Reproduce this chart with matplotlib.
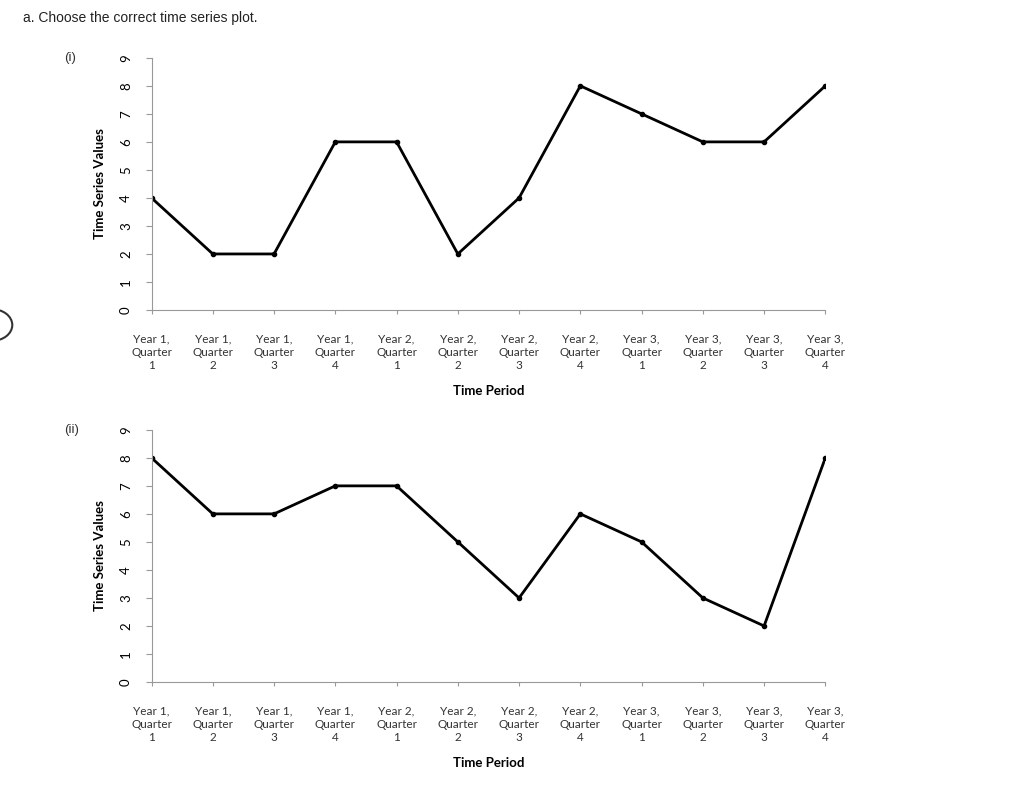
import matplotlib.pyplot as plt
from matplotlib.patches import Circle

periods = ["Year 1,\nQuarter\n1", "Year 1,\nQuarter\n2", "Year 1,\nQuarter\n3", "Year 1,\nQuarter\n4",
           "Year 2,\nQuarter\n1", "Year 2,\nQuarter\n2", "Year 2,\nQuarter\n3", "Year 2,\nQuarter\n4",
           "Year 3,\nQuarter\n1", "Year 3,\nQuarter\n2", "Year 3,\nQuarter\n3", "Year 3,\nQuarter\n4"]
values_i = [4, 2, 2, 6, 6, 2, 4, 8, 7, 6, 6, 8]
values_ii = [8, 6, 6, 7, 7, 5, 3, 6, 5, 3, 2, 8]

fig = plt.figure(figsize=(10.24, 7.93), dpi=100)
fig.text(0.022, 0.977, "a. Choose the correct time series plot.", fontsize=10,
         family="Liberation Sans", va="center", color="#222222")

# partial radio button on the left edge
fig.patches.append(Circle((-0.008, 1 - 325 / 793), 0.02, transform=fig.transFigure,
                          fill=False, lw=1.5, ec="#333333"))


def draw(bottom, label, vals):
    ax = fig.add_axes([0.148, bottom, 0.658, 0.318])
    x = range(len(vals))
    ax.plot(x, vals, color="black", lw=2, marker="o", ms=3)
    ax.set_xlim(0, 11)
    ax.set_ylim(0, 9)
    ax.set_yticks(range(10))
    ax.set_xticks(list(x))
    ax.set_xticklabels(periods, fontsize=8.5, family="Lato", color="#333333", linespacing=1.25)
    for t in ax.get_yticklabels():
        t.set_rotation(90)
        t.set_va("center")
        t.set_fontsize(9.5)
        t.set_family("Lato")
    for s in ["top", "right"]:
        ax.spines[s].set_visible(False)
    for s in ["left", "bottom"]:
        ax.spines[s].set_color("#999999")
    ax.tick_params(axis="y", length=4, color="#999999", pad=10)
    ax.tick_params(axis="x", length=3, color="#999999", pad=14)
    ax.set_xlabel("Time Period", fontsize=9.5, fontweight="bold", family="Lato", labelpad=10)
    ax.set_ylabel("Time Series Values", fontsize=9.5, fontweight="bold", family="Lato", labelpad=10)
    fig.text(0.063, bottom + 0.318, label, fontsize=9.5, family="Liberation Sans", va="center",
             color="#333333")


draw(1 - 310 / 793, "(i)", values_i)
draw(1 - 682 / 793, "(ii)", values_ii)

fig.savefig("out.png", dpi=100)
